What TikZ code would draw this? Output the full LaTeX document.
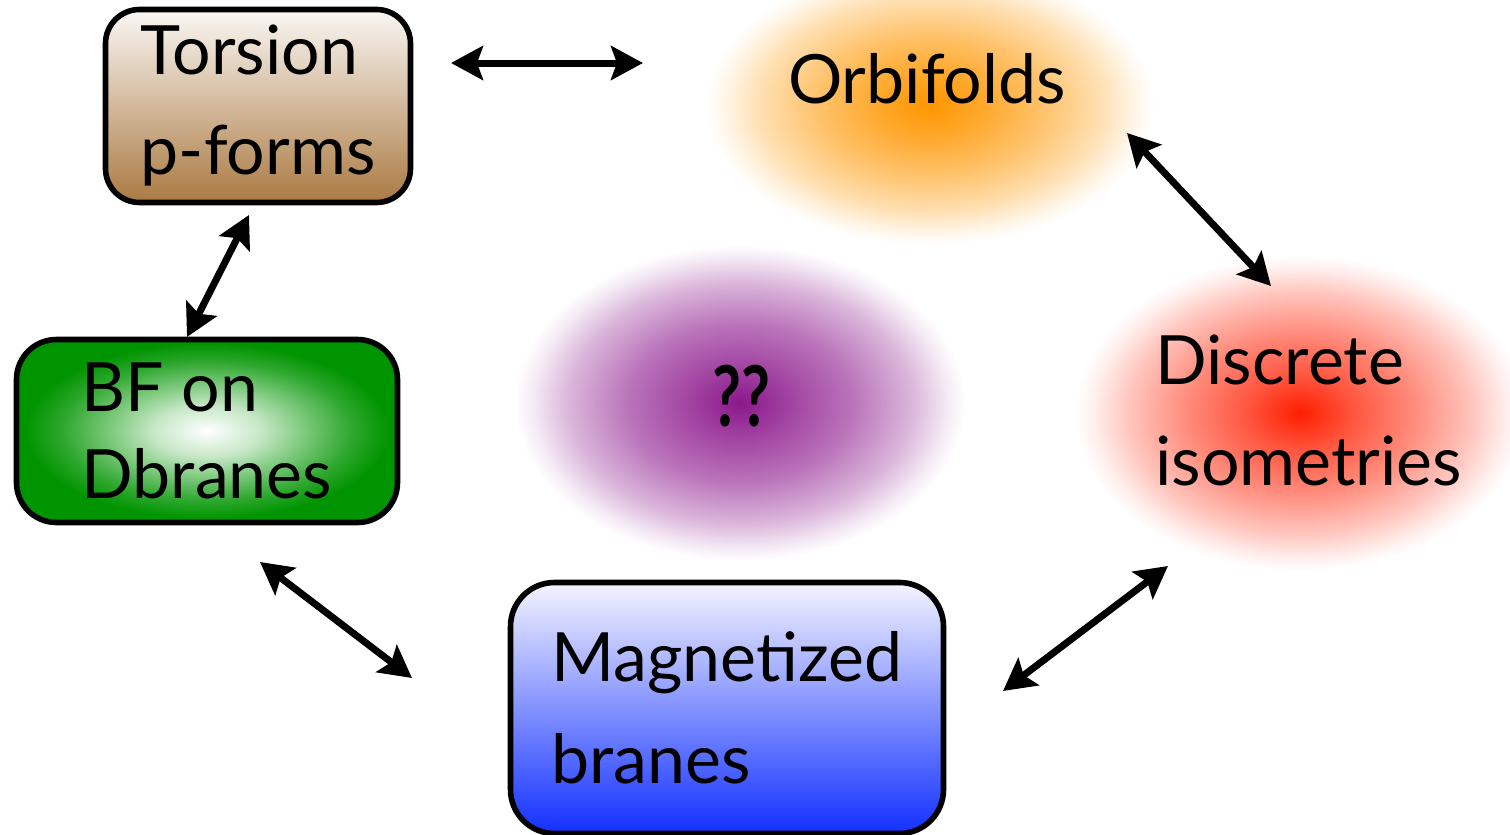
\documentclass[tikz,border=0pt]{standalone}
\usepackage{fontspec}
\setmainfont{Lato}
\usepackage{graphicx}
\usetikzlibrary{arrows.meta,calc,shapes.geometric}

\definecolor{browntop}{RGB}{250,247,244}
\definecolor{brownbot}{RGB}{170,122,66}
\definecolor{bluetop}{RGB}{244,244,255}
\definecolor{bluebot}{RGB}{18,48,255}
\definecolor{greenout}{RGB}{0,148,0}
\definecolor{orangec}{RGB}{255,150,0}
\definecolor{redc}{RGB}{255,30,0}
\definecolor{purplec}{RGB}{140,24,140}

\pgfdeclareverticalshading{brownsh}{100bp}{color(0bp)=(brownbot); color(25bp)=(brownbot); color(75bp)=(browntop); color(100bp)=(browntop)}
\pgfdeclareverticalshading{bluesh}{100bp}{color(0bp)=(bluebot); color(25bp)=(bluebot); color(75bp)=(bluetop); color(100bp)=(bluetop)}
\pgfdeclareradialshading{greensh}{\pgfpoint{0bp}{0bp}}{color(0bp)=(white); color(7bp)=(greenout!22!white); color(13bp)=(greenout!52!white); color(19bp)=(greenout!82!white); color(24bp)=(greenout); color(50bp)=(greenout)}
\pgfdeclareradialshading{orangesh}{\pgfpoint{0bp}{0bp}}{color(0bp)=(orangec); color(6bp)=(orangec!82!white); color(12.5bp)=(orangec!58!white); color(19bp)=(orangec!30!white); color(23bp)=(orangec!8!white); color(25bp)=(white); color(50bp)=(white)}
\pgfdeclareradialshading{redsh}{\pgfpoint{0bp}{0bp}}{color(0bp)=(redc); color(6bp)=(redc!75!white); color(12.5bp)=(redc!52!white); color(19bp)=(redc!26!white); color(23bp)=(redc!7!white); color(25bp)=(white); color(50bp)=(white)}
\pgfdeclareradialshading{purplesh}{\pgfpoint{0bp}{0bp}}{color(0bp)=(purplec); color(6bp)=(purplec!80!white); color(12.5bp)=(purplec!60!white); color(19bp)=(purplec!32!white); color(23bp)=(purplec!9!white); color(25bp)=(white); color(50bp)=(white)}

\tikzset{
  blob/.style={ellipse, inner sep=0pt, draw=none, shade},
  box/.style={draw=black, line width=2.8pt, inner sep=0pt, align=left, shade,
    font=\fontsize{34}{50}\selectfont},
  txt/.style={inner sep=0pt, font=\fontsize{34}{50.5}\selectfont},
  dar/.style={line width=3.5pt,
    {Stealth[length=16pt,width=17pt,inset=3pt]}-{Stealth[length=16pt,width=17pt,inset=3pt]}}
}

\begin{document}
\begin{tikzpicture}[x=0.5pt,y=-0.5pt]
\useasboundingbox (0,0) rectangle (1510,835);

% blobs
\node[blob, shading=purplesh, minimum width=225pt, minimum height=158pt] (qblob) at (740,403) {};
\node[blob, shading=orangesh, minimum width=225pt, minimum height=140pt] (orb) at (930,105) {};
\node[blob, shading=redsh, minimum width=225pt, minimum height=158pt] (disc) at (1300,413) {};

% texts on blobs
\node[txt, anchor=base] (orbt) at (927,103) {Orbifolds};
\node[txt, anchor=west, align=left] (disct) at (1155,410) {Discrete\\isometries};
\node[inner sep=0pt, anchor=base, font=\fontsize{42}{42}\selectfont\bfseries] (qq) at (741,426) {\scalebox{0.75}[1]{??}};

% boxes
\node[box, shading=brownsh, rounded corners=17pt, minimum width=152.5pt, minimum height=96.5pt] (tors) at (258,106) {Torsion\\p-forms};
\node[box, shading=greensh, rounded corners=20pt, minimum width=190.5pt, minimum height=91.5pt,
  font=\fontsize{34}{43.5}\selectfont] (bf) at (207,431) {BF on\\Dbranes};
\node[box, shading=bluesh, rounded corners=22pt, minimum width=216.5pt, minimum height=125.5pt,
  font=\fontsize{34}{51}\selectfont] (mag) at (727,708) {Magnetized\\branes};

% connectors
\draw[dar] ($(tors.center)+(193,-43)$) -- ($(orb.center)+(-287,-42)$);
\draw[dar] ($(orb.center)+(197,28)$) -- ($(disc.center)+(-29,-127)$);
\draw[dar] ($(disc.center)+(-132,153)$) -- ($(mag.center)+(276,-17)$);
\draw[dar] ($(mag.center)+(-315,-30)$) -- ($(bf.center)+(53,131)$);
\draw[dar] ($(bf.center)+(-20,-94)$) -- ($(tors.center)+(-9,109)$);
\end{tikzpicture}
\end{document}
